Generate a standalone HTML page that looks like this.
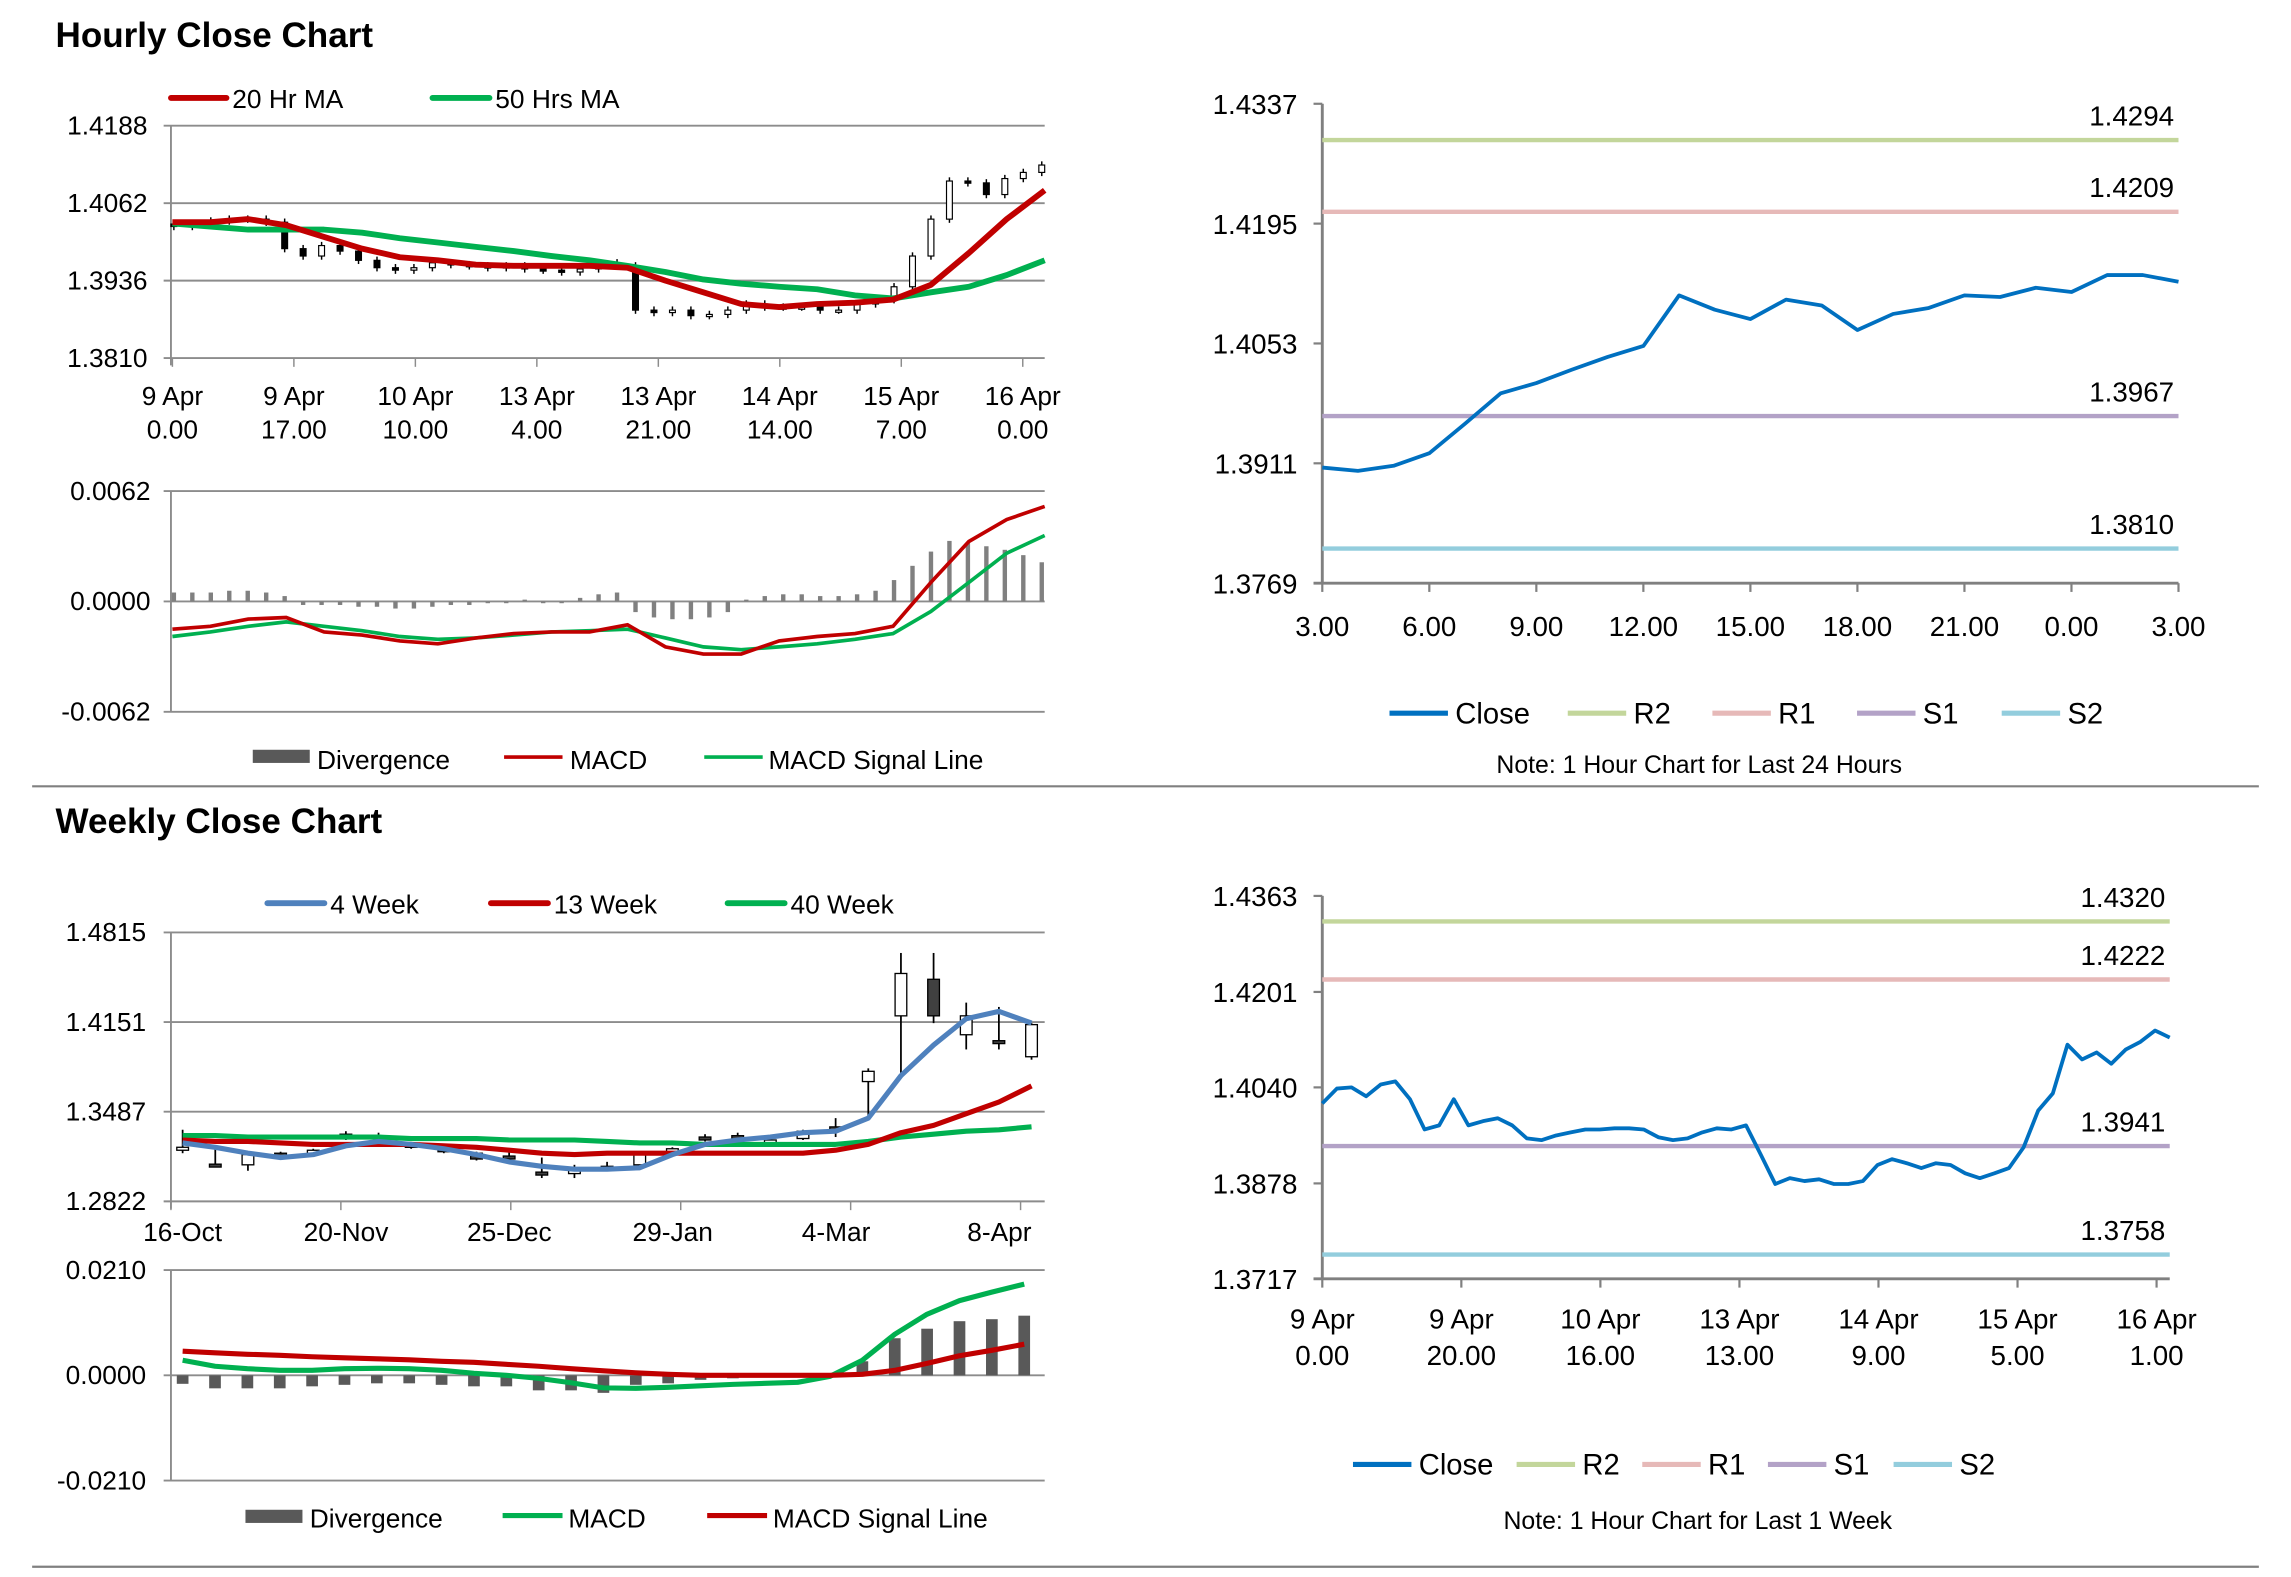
<!DOCTYPE html>
<html><head><meta charset="utf-8">
<style>
html,body{margin:0;padding:0;background:#fff;}
svg{display:block;font-family:"Liberation Sans",Arial,sans-serif;}
text{fill:#000;}
</style></head>
<body>
<svg id="root" width="2291" height="1577" viewBox="0 0 1568 1079" preserveAspectRatio="none" xmlns="http://www.w3.org/2000/svg">
<rect x="0" y="0" width="1568" height="1079" fill="#fff"/>
<text x="38" y="32" font-size="24" font-weight="bold">Hourly Close Chart</text>
<line x1="22" y1="538" x2="1546" y2="538" stroke="#808080" stroke-width="1.5"/>
<text x="38" y="570" font-size="24" font-weight="bold">Weekly Close Chart</text>
<line x1="22" y1="1072" x2="1546" y2="1072" stroke="#808080" stroke-width="1.5"/>
<g id="g1"></g>
<g id="g2"></g>
<g id="g3"></g>
<g id="g4"></g>
<g id="g5"></g>
<g id="g6"></g>
</svg>
<script>
// ---------- DATA ----------
const hCloses=[1.4024,1.4029,1.4033,1.4036,1.4036,1.4031,1.3988,1.3976,1.3993,1.3984,1.3969,1.3957,1.3953,1.3957,1.3965,1.3962,1.3960,1.3957,1.3960,1.3955,1.3953,1.3950,1.3955,1.3965,1.3960,1.3888,1.3884,1.3888,1.3879,1.3881,1.3888,1.3898,1.3893,1.3893,1.3893,1.3888,1.3888,1.3898,1.3905,1.3926,1.3976,1.4036,1.4098,1.4095,1.4076,1.4102,1.4112,1.4124];
const hMA20=[1.4031,1.4031,1.4036,1.4026,1.4007,1.3988,1.3974,1.3969,1.3962,1.3960,1.3960,1.3960,1.3957,1.3936,1.3917,1.3898,1.3893,1.3898,1.3900,1.3905,1.3929,1.3981,1.4036,1.4083];
const hMA50=[1.4029,1.4024,1.4019,1.4019,1.4019,1.4014,1.4005,1.3998,1.3991,1.3984,1.3976,1.3969,1.3960,1.3950,1.3938,1.3931,1.3926,1.3922,1.3912,1.3907,1.3917,1.3926,1.3945,1.3969];
const hPriceTicks=[1.4188,1.4062,1.3936,1.3810];
const hXLabels1=["9 Apr","9 Apr","10 Apr","13 Apr","13 Apr","14 Apr","15 Apr","16 Apr"];
const hXLabels2=["0.00","17.00","10.00","4.00","21.00","14.00","7.00","0.00"];
const hMacd=[-0.00156,-0.0014,-0.00099,-0.0009,-0.00172,-0.00189,-0.00222,-0.00238,-0.00205,-0.00181,-0.00172,-0.00172,-0.00131,-0.00255,-0.00296,-0.00296,-0.00222,-0.00197,-0.00181,-0.0014,0.00107,0.00337,0.0046,0.00534];
const hSignal=[-0.00197,-0.00172,-0.0014,-0.00115,-0.0014,-0.00164,-0.00197,-0.00213,-0.00205,-0.00189,-0.00172,-0.00164,-0.00156,-0.00205,-0.00255,-0.00271,-0.00255,-0.00238,-0.00213,-0.00181,-0.00057,0.00107,0.00271,0.0037];
const hDiv=[0.0005,0.0005,0.0005,0.0006,0.0006,0.0005,0.0003,-0.0002,-0.0002,-0.0002,-0.0003,-0.0003,-0.0004,-0.0004,-0.0003,-0.0002,-0.0002,-0.0001,-0.0001,0.0001,-0.0001,-0.0001,0.0002,0.0004,0.0005,-0.0006,-0.0009,-0.0010,-0.0010,-0.0009,-0.0006,0.0001,0.0003,0.0004,0.0004,0.0003,0.0003,0.0004,0.0006,0.0012,0.0020,0.0028,0.0034,0.0033,0.0031,0.0029,0.0026,0.0022];
const hMacdTicks=[0.0062,0,-0.0062];

const dClose=[1.3906,1.3902,1.3908,1.3923,1.3958,1.3994,1.4006,1.4022,1.4037,1.4050,1.4110,1.4093,1.4082,1.4105,1.4098,1.4069,1.4088,1.4095,1.4110,1.4108,1.4119,1.4114,1.4134,1.4134,1.4126];
const dTicks=[1.4337,1.4195,1.4053,1.3911,1.3769];
const dXLabels=["3.00","6.00","9.00","12.00","15.00","18.00","21.00","0.00","3.00"];
const dLevels=[1.4294,1.4209,1.3967,1.3810];

const wOpen=[1.3201,1.3098,1.3093,1.3179,1.3190,1.3288,1.3299,1.3244,1.3212,1.3179,1.3158,1.3039,1.3028,1.3071,1.3093,1.3169,1.3299,1.3309,1.3266,1.3288,1.3374,1.3710,1.4197,1.4468,1.4057,1.4013,1.3894];
const wClose=[1.3223,1.3088,1.3169,1.3158,1.3201,1.3320,1.3309,1.3223,1.3190,1.3136,1.3147,1.3017,1.3071,1.3082,1.3169,1.3212,1.3277,1.3255,1.3277,1.3342,1.3353,1.3786,1.4511,1.4197,1.4197,1.3992,1.4132];
const wHigh=[1.3353,1.3223,1.3190,1.3190,1.3212,1.3342,1.3331,1.3255,1.3223,1.3190,1.3201,1.3147,1.3093,1.3115,1.3179,1.3223,1.3320,1.3331,1.3288,1.3353,1.3439,1.3808,1.4663,1.4663,1.4295,1.4263,1.4143];
const wLow=[1.3179,1.3082,1.3049,1.3147,1.3179,1.3277,1.3288,1.3212,1.3179,1.3125,1.3136,1.2995,1.2995,1.3060,1.3082,1.3158,1.3266,1.3244,1.3255,1.3277,1.3299,1.3461,1.3775,1.4143,1.3948,1.3948,1.3872];
const w4=[1.3255,1.3223,1.3179,1.3147,1.3169,1.3234,1.3266,1.3244,1.3212,1.3169,1.3114,1.3082,1.3060,1.3060,1.3071,1.3169,1.3244,1.3277,1.3299,1.3331,1.3342,1.3439,1.3753,1.3981,1.4176,1.4230,1.4143];
const w13=[1.3277,1.3266,1.3266,1.3255,1.3244,1.3244,1.3244,1.3244,1.3234,1.3223,1.3201,1.3179,1.3169,1.3179,1.3179,1.3179,1.3179,1.3179,1.3179,1.3179,1.3201,1.3244,1.3331,1.3385,1.3472,1.3559,1.3678];
const w40=[1.3309,1.3309,1.3299,1.3299,1.3299,1.3299,1.3299,1.3288,1.3288,1.3288,1.3277,1.3277,1.3277,1.3266,1.3255,1.3255,1.3244,1.3244,1.3244,1.3244,1.3244,1.3266,1.3299,1.3320,1.3342,1.3353,1.3374];
const wTicks=[1.4815,1.4151,1.3487,1.2822];
const wXLabels=["16-Oct","20-Nov","25-Dec","29-Jan","4-Mar","8-Apr"];
const wMacd=[0.0030,0.0018,0.0013,0.0010,0.0010,0.0013,0.0014,0.0013,0.0010,0.0004,0.0000,-0.0006,-0.0015,-0.0025,-0.0026,-0.0024,-0.0021,-0.0018,-0.0016,-0.0014,-0.0002,0.0030,0.0082,0.0122,0.0149,0.0166,0.0182];
const wSignal=[0.0048,0.0045,0.0042,0.0040,0.0037,0.0035,0.0033,0.0031,0.0028,0.0026,0.0022,0.0018,0.0013,0.0009,0.0005,0.0002,0,0,0,0,0,0.0002,0.0010,0.0024,0.0039,0.0050,0.0062];
const wDiv=[-0.0017,-0.0026,-0.0026,-0.0026,-0.0022,-0.0019,-0.0016,-0.0016,-0.0019,-0.0022,-0.0022,-0.0030,-0.0030,-0.0035,-0.0019,-0.0016,-0.0009,-0.0006,-0.0003,-0.0002,0.0002,0.0028,0.0074,0.0093,0.0108,0.0112,0.0119];
const wMacdTicks=[0.0210,0,-0.0210];

const kClose=[1.4013,1.4038,1.4040,1.4025,1.4045,1.4050,1.4020,1.3969,1.3976,1.4020,1.3976,1.3983,1.3988,1.3976,1.3954,1.3951,1.3959,1.3964,1.3969,1.3969,1.3971,1.3971,1.3969,1.3956,1.3951,1.3954,1.3964,1.3971,1.3969,1.3976,1.3927,1.3877,1.3887,1.3882,1.3885,1.3877,1.3877,1.3882,1.3909,1.3919,1.3912,1.3904,1.3912,1.3909,1.3895,1.3887,1.3895,1.3904,1.3939,1.4001,1.4030,1.4112,1.4087,1.4099,1.4080,1.4104,1.4117,1.4136,1.4124];
const kTicks=[1.4363,1.4201,1.4040,1.3878,1.3717];
const kXLabels1=["9 Apr","9 Apr","10 Apr","13 Apr","14 Apr","15 Apr","16 Apr"];
const kXLabels2=["0.00","20.00","16.00","13.00","9.00","5.00","1.00"];
const kLevels=[1.4320,1.4222,1.3941,1.3758];

// ---------- HELPERS ----------
const NS="http://www.w3.org/2000/svg";
function mk(parent,tag,attrs,txt){const e=document.createElementNS(NS,tag);for(const k in attrs)e.setAttribute(k,attrs[k]);if(txt!==undefined)e.textContent=txt;parent.appendChild(e);return e;}
function lin(d0,d1,r0,r1){return v=>r0+(v-d0)*(r1-r0)/(d1-d0);}
function poly(arr,xf,yf){return arr.map((v,i)=>xf(i).toFixed(1)+","+yf(v).toFixed(1)).join(" ");}
const GRID="#8c8c8c";
function fmt(v,n){return v.toFixed(n);}

// ---------- CHART 1: hourly candles ----------
(function(){
const g=document.getElementById('g1');
const x0=117,x1=715;const y=lin(1.3810,1.4188,245,86);
hPriceTicks.forEach(t=>{
 const l=mk(g,'line',{x1:x0-5,x2:x1,y1:y(t),y2:y(t),stroke:GRID,'stroke-width':1.3});
 
 
 const tx=mk(g,'text',{x:101,y:y(t)+6,'font-size':18,'text-anchor':'end'},fmt(t,4));
 
 
});
mk(g,'line',{x1:x0,x2:x0,y1:86,y2:250,stroke:GRID,'stroke-width':1.3});
const xl=lin(0,hXLabels1.length-1,118,700);
hXLabels1.forEach((s,i)=>{
 mk(g,'line',{x1:xl(i),x2:xl(i),y1:245,y2:251,stroke:GRID});
 const a=mk(g,'text',{x:xl(i),y:277,'font-size':18,'text-anchor':'middle'},s);
 
 
 const b=mk(g,'text',{x:xl(i),y:300,'font-size':18,'text-anchor':'middle'},hXLabels2[i]);
 
 
});
const xc=lin(0,hCloses.length-1,119,713);
hCloses.forEach((c,i)=>{
 const o=i?hCloses[i-1]:c+0.0004;
 const hi=Math.max(o,c)+0.0006,lo=Math.min(o,c)-0.0006;
 const cg=mk(g,'g',{});
 
 
 mk(cg,'line',{x1:xc(i),x2:xc(i),y1:y(hi),y2:y(lo),stroke:'#000','stroke-width':1});
 const top=y(Math.max(o,c)),bot=y(Math.min(o,c));
 mk(cg,'rect',{x:xc(i)-2,y:top,width:4,height:Math.max(1.5,bot-top),fill:c>=o?'#fff':'#000',stroke:'#000','stroke-width':0.8});
});
const xm=lin(0,hMA20.length-1,118,715);
const p1=mk(g,'polyline',{points:poly(hMA50,xm,y),fill:'none',stroke:'#00b050','stroke-width':4,'stroke-linejoin':'round'});


const p2=mk(g,'polyline',{points:poly(hMA20,xm,y),fill:'none',stroke:'#c00000','stroke-width':4,'stroke-linejoin':'round'});


const lg=mk(g,'g',{});


mk(lg,'line',{x1:117,x2:155,y1:67,y2:67,stroke:'#c00000','stroke-width':4,'stroke-linecap':'round'});
mk(lg,'text',{x:159,y:74,'font-size':18},'20 Hr MA');
mk(lg,'line',{x1:296,x2:335,y1:67,y2:67,stroke:'#00b050','stroke-width':4,'stroke-linecap':'round'});
mk(lg,'text',{x:339,y:74,'font-size':18},'50 Hrs MA');
})();

// ---------- CHART 2: hourly MACD ----------
(function(){
const g=document.getElementById('g2');
const x0=117,x1=715;const y=lin(-0.0062,0.0062,487,336);
hMacdTicks.forEach(t=>{
 const l=mk(g,'line',{x1:x0-5,x2:x1,y1:y(t),y2:y(t),stroke:GRID,'stroke-width':1.3});
 
 
 const tx=mk(g,'text',{x:103,y:y(t)+6,'font-size':18,'text-anchor':'end'},fmt(t,4));
 
 
});
mk(g,'line',{x1:x0,x2:x0,y1:336,y2:487,stroke:GRID,'stroke-width':1.3});
const xb=lin(0,hDiv.length-1,119,713);
hDiv.forEach((v,i)=>{
 const r=mk(g,'rect',{x:xb(i)-1.5,y:Math.min(y(v),y(0)),width:3,height:Math.abs(y(v)-y(0)),fill:'#808080'});
 
 
});
const xm=lin(0,hMacd.length-1,118,715);
const a=mk(g,'polyline',{points:poly(hSignal,xm,y),fill:'none',stroke:'#00b050','stroke-width':2.5});


const b=mk(g,'polyline',{points:poly(hMacd,xm,y),fill:'none',stroke:'#c00000','stroke-width':2.5});


const lg=mk(g,'g',{});


mk(lg,'rect',{x:173,y:513,width:39,height:9,fill:'#595959'});
mk(lg,'text',{x:217,y:526,'font-size':18},'Divergence');
mk(lg,'line',{x1:345,x2:385,y1:518,y2:518,stroke:'#c00000','stroke-width':2.5});
mk(lg,'text',{x:390,y:526,'font-size':18},'MACD');
mk(lg,'line',{x1:482,x2:522,y1:518,y2:518,stroke:'#00b050','stroke-width':2.5});
mk(lg,'text',{x:526,y:526,'font-size':18},'MACD Signal Line');
})();

// ---------- close-with-levels chart helper ----------
function levelChart(g,data,ticks,levels,x0,x1,yTop,yBot,xlabFn,legendY,note){
 const y=lin(ticks[ticks.length-1],ticks[0],yBot,yTop);
 mk(g,'line',{x1:x0,x2:x0,y1:yTop,y2:yBot,stroke:'#808080','stroke-width':2});
 mk(g,'line',{x1:x0-6,x2:x1,y1:yBot,y2:yBot,stroke:'#808080','stroke-width':2});
 ticks.forEach(t=>{
  mk(g,'line',{x1:x0-6,x2:x0,y1:y(t),y2:y(t),stroke:'#808080','stroke-width':1.5});
  const tx=mk(g,'text',{x:x0-17,y:y(t)+7,'font-size':19,'text-anchor':'end'},fmt(t,4));
  
  
 });
 xlabFn(y);
 const cols=['#c3d69b','#e6b9b8','#b3a2c7','#93cddd'];
 const names=['r2-line','r1-line','s1-line','s2-line'];
 levels.forEach((v,i)=>{
  const l=mk(g,'line',{x1:x0,x2:x1,y1:y(v),y2:y(v),stroke:cols[i],'stroke-width':3});
  
  
  const t=mk(g,'text',{x:x1-3,y:y(v)-10,'font-size':19,'text-anchor':'end'},fmt(v,4));
  
  
 });
 const xf=lin(0,data.length-1,x0,x1);
 const p=mk(g,'polyline',{points:poly(data,xf,y),fill:'none',stroke:'#0070c0','stroke-width':2.6,'stroke-linejoin':'round'});
 
 
 const lg=mk(g,'g',{});
 
 
 const items=[['Close','#0070c0'],['R2',cols[0]],['R1',cols[1]],['S1',cols[2]],['S2',cols[3]]];
 let lx=legendY.x;
 items.forEach((it,i)=>{
  mk(lg,'line',{x1:lx,x2:lx+40,y1:legendY.y,y2:legendY.y,stroke:it[1],'stroke-width':3.5});
  mk(lg,'text',{x:lx+45,y:legendY.y+7,'font-size':20},it[0]);
  lx+= i==0?legendY.w0:legendY.w;
 });
 const n=mk(g,'text',{x:note.x,y:note.y,'font-size':17,'text-anchor':'middle'},note.t);
 
 
}

// ---------- CHART 3 ----------
(function(){
const g=document.getElementById('g3');
levelChart(g,dClose,dTicks,dLevels,905,1491,71,399,function(){
 const xl=lin(0,dXLabels.length-1,905,1491);
 dXLabels.forEach((s,i)=>{
  mk(g,'line',{x1:xl(i),x2:xl(i),y1:399,y2:405,stroke:'#808080','stroke-width':1.5});
  const t=mk(g,'text',{x:xl(i),y:435,'font-size':19,'text-anchor':'middle'},s);
  
  
 });
},{x:951,y:488,w0:122,w:99},{x:1163,y:529,t:'Note: 1 Hour Chart for Last 24 Hours'});
})();

// ---------- CHART 4: weekly candles ----------
(function(){
const g=document.getElementById('g4');
const x0=117,x1=715;const y=lin(1.2822,1.4815,822,638);
wTicks.forEach(t=>{
 const l=mk(g,'line',{x1:x0-5,x2:x1,y1:y(t),y2:y(t),stroke:GRID,'stroke-width':1.3});
 
 
 const tx=mk(g,'text',{x:100,y:y(t)+6,'font-size':18,'text-anchor':'end'},fmt(t,4));
 
 
});
mk(g,'line',{x1:x0,x2:x0,y1:638,y2:827,stroke:GRID,'stroke-width':1.3});
const xl=lin(0,wXLabels.length-1,125,684);
wXLabels.forEach((s,i)=>{
 mk(g,'line',{x1:x0+i*116.3,x2:x0+i*116.3,y1:822,y2:828,stroke:GRID});
 const t=mk(g,'text',{x:xl(i),y:849,'font-size':18,'text-anchor':'middle'},s);
 
 
});
const xc=lin(0,wOpen.length-1,125,706);
wOpen.forEach((o,i)=>{
 const c=wClose[i];
 const cg=mk(g,'g',{});
 
 
 mk(cg,'line',{x1:xc(i),x2:xc(i),y1:y(wHigh[i]),y2:y(wLow[i]),stroke:'#000','stroke-width':1.2});
 const top=y(Math.max(o,c)),bot=y(Math.min(o,c));
 mk(cg,'rect',{x:xc(i)-4,y:top,width:8,height:Math.max(2,bot-top),fill:c>=o?'#fff':'#404040',stroke:'#000','stroke-width':0.9});
});
const names=[['ma40-line',w40,'#00b050'],['ma13-line',w13,'#c00000'],['ma4-line',w4,'#4f81bd']];
names.forEach(n=>{
 const p=mk(g,'polyline',{points:poly(n[1],xc,y),fill:'none',stroke:n[2],'stroke-width':3.5,'stroke-linejoin':'round'});
 
 
});
const lg=mk(g,'g',{});


mk(lg,'line',{x1:183,x2:222,y1:618,y2:618,stroke:'#4f81bd','stroke-width':4,'stroke-linecap':'round'});
mk(lg,'text',{x:226,y:625,'font-size':18},'4 Week');
mk(lg,'line',{x1:336,x2:375,y1:618,y2:618,stroke:'#c00000','stroke-width':4,'stroke-linecap':'round'});
mk(lg,'text',{x:379,y:625,'font-size':18},'13 Week');
mk(lg,'line',{x1:498,x2:537,y1:618,y2:618,stroke:'#00b050','stroke-width':4,'stroke-linecap':'round'});
mk(lg,'text',{x:541,y:625,'font-size':18},'40 Week');
})();

// ---------- CHART 5: weekly MACD ----------
(function(){
const g=document.getElementById('g5');
const x0=117,x1=715;const y=lin(-0.0210,0.0210,1013,869);
wMacdTicks.forEach(t=>{
 const l=mk(g,'line',{x1:x0-5,x2:x1,y1:y(t),y2:y(t),stroke:GRID,'stroke-width':1.3});
 
 
 const tx=mk(g,'text',{x:100,y:y(t)+6,'font-size':18,'text-anchor':'end'},fmt(t,4));
 
 
});
mk(g,'line',{x1:x0,x2:x0,y1:869,y2:1013,stroke:GRID,'stroke-width':1.3});
const xc=lin(0,wDiv.length-1,125,701);
wDiv.forEach((v,i)=>{
 const r=mk(g,'rect',{x:xc(i)-4,y:Math.min(y(v),y(0)),width:8,height:Math.abs(y(v)-y(0)),fill:'#595959'});
 
 
});
const a=mk(g,'polyline',{points:poly(wMacd,xc,y),fill:'none',stroke:'#00b050','stroke-width':3.5,'stroke-linejoin':'round'});


const b=mk(g,'polyline',{points:poly(wSignal,xc,y),fill:'none',stroke:'#c00000','stroke-width':3.5,'stroke-linejoin':'round'});


const lg=mk(g,'g',{});


mk(lg,'rect',{x:168,y:1033,width:39,height:9,fill:'#595959'});
mk(lg,'text',{x:212,y:1045,'font-size':18},'Divergence');
mk(lg,'line',{x1:344,x2:385,y1:1037,y2:1037,stroke:'#00b050','stroke-width':3.5});
mk(lg,'text',{x:389,y:1045,'font-size':18},'MACD');
mk(lg,'line',{x1:484,x2:525,y1:1037,y2:1037,stroke:'#c00000','stroke-width':3.5});
mk(lg,'text',{x:529,y:1045,'font-size':18},'MACD Signal Line');
})();

// ---------- CHART 6 ----------
(function(){
const g=document.getElementById('g6');
levelChart(g,kClose,kTicks,kLevels,905,1485,613,875,function(){
 const xl=lin(0,kXLabels1.length-1,905,1476);
 kXLabels1.forEach((s,i)=>{
  mk(g,'line',{x1:xl(i),x2:xl(i),y1:875,y2:881,stroke:'#808080','stroke-width':1.5});
  const a=mk(g,'text',{x:xl(i),y:909,'font-size':19,'text-anchor':'middle'},s);
  
  
  const b=mk(g,'text',{x:xl(i),y:934,'font-size':19,'text-anchor':'middle'},kXLabels2[i]);
  
  
 });
},{x:926,y:1002,w0:112,w:86},{x:1162,y:1046,t:'Note: 1 Hour Chart for  Last 1 Week'});
})();
</script>
</body></html>
